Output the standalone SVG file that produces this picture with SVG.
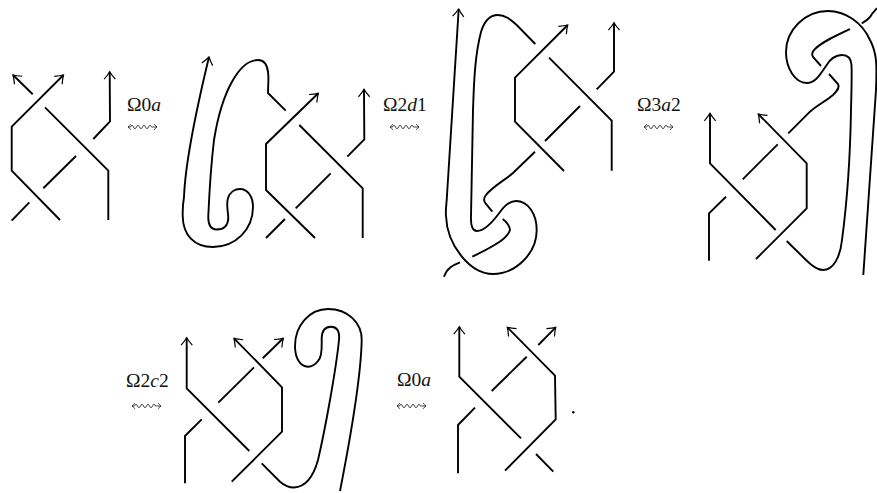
<svg xmlns="http://www.w3.org/2000/svg" width="877" height="493" viewBox="0 0 877 493">
<style>
.s{fill:none;stroke:#000;stroke-width:1.9;stroke-linejoin:miter;stroke-linecap:butt}
.a{marker-end:url(#ah)}
.l{font-family:"Liberation Serif",serif;font-size:19.5px;fill:#111}
.i{font-style:italic}
.q{fill:none;stroke:#222;stroke-width:.85}
</style>
<defs>
<marker id="ah" markerUnits="userSpaceOnUse" markerWidth="14" markerHeight="16" refX="10" refY="8" orient="auto" overflow="visible">
<path d="M2.500,2.400 Q7,6.300 10,8 Q7,9.700 2.500,13.600" fill="none" stroke="#000" stroke-width="1.200"/>
</marker>
<g id="sq">
<path class="q" d="M0,0 h2.500 q1.500,-3.400 3,0 t3,0 t3,0 t3,0 t3,0 t3,0 t3,0 L29,0"/>
<path class="q" d="M3,-2.800 Q1,-0.900 0,0 Q1,0.900 3,2.800 M26,-2.800 Q28,-0.900 29,0 Q28,0.900 26,2.800"/>
</g>
</defs>
<g id="knot1">
<path class="s a" d="M32.700,94.300 L13,75"/>
<path class="s a" d="M60,220 L11.700,170.700 L11.700,126.700 L63.500,75"/>
<path class="s" d="M45,107.300 L108.300,170.700 L108.300,220"/>
<path class="s" d="M11.700,220.700 L29.300,202.300"/>
<path class="s" d="M43.300,188.300 L76,156"/>
<path class="s a" d="M93.300,139 L110,121.300 L109.700,71.700"/>
</g>
<g id="knot2">
<path class="s a" d="M285.700,110.700 L268,93 C268,85 269,78 268,72 C267,64 263,60 258,60 C240,60 222,90 214,140 C211,165 209,200 208.300,216 C208,225 211,229.500 216.700,229.500 C224,229.500 228,226 228.300,218 C228,210 226,205 228,198 C230,192 235,189 240,189 C248,189 253,197 253,207 C253,230 235,247 213,247 C194,247 183,235 182.700,216 C182.500,208 183,203 184,197 C185,170 195,115 209,57"/>
<path class="s a" d="M315,238 L266,190 L266,144 L318.300,93.300"/>
<path class="s" d="M299.300,125 L362.700,188.300 L362.700,238"/>
<path class="s" d="M266,238 L285,219"/>
<path class="s" d="M295.700,208.300 L330.700,173.300"/>
<path class="s a" d="M347.300,156.700 L364.300,139.300 L364,89.300"/>
</g>
<g id="knot3">
<path class="s a" d="M535.300,44 L516.700,25 C510,19 505,15 498,15 C490,15 484,22 481,32 C475,55 474,80 473,110 L471,216 C470.500,227 473,231 477,231 C484,231 492,223 500,212 C505,205 510,201 516,201 C528,201 536.700,214 536.700,230 C536.700,254 515,274 493,274 C470,274 447,245 446,216 C445.500,212 446,208 446.700,200 L458.700,9"/>
<path class="s a" d="M564,171 L515,121.700 L515,77.700 L567.700,25"/>
<path class="s" d="M549,57.700 L611.700,120.700 L611.700,170.700"/>
<path class="s" d="M545,141 L580,106"/>
<path class="s a" d="M596.700,89.300 L614,71.700 L614,22.700"/>
<path class="s" d="M535,151.700 L513,173 C505,180 492,187 486,195 C483,199 484,202 486,204 L492.300,211.700"/>
<path class="s" d="M502.700,219 C507,222 510,227 510,230 C509,233 505,238 500,241.500 C492,247 482,252 472.300,256.700"/>
<path class="s" d="M460,262.300 C453,265 447,268 444,276.700"/>
</g>
<g id="knot4">
<path class="s a" d="M775.700,230 L710,163.300 L710,113.300"/>
<path class="s" d="M709,260.700 L709,213.300 L726,196.700"/>
<path class="s" d="M742.700,179.300 L777.700,144.300"/>
<path class="s a" d="M756,259 L806.700,208.300 L806.700,163.300 L758.300,114"/>
<path class="s" d="M786.700,241 L806,260 C812,266 817,270 823,270 C833,270 840,258 842,240 C846,210 850,170 851,110 C851.500,90 852,75 851.500,65 C851,58 847,55 842,55 C836,55 830,59 826,66 C820,75 815,83 806.700,83 C795,83 786,68 786,52 C786,30 805,11 828,11 C845,11 862,22 870,40 C877,53 877,65 876,90 L863.300,275"/>
<path class="s" d="M788.300,133.300 L810,111.700 C816,106 826,101 833,95 C838,90 840,87 838,84 L829,74"/>
<path class="s" d="M821,66 L813,57 C811,54 812,52 815,49 C822,42 835,36 850,29"/>
<path class="s" d="M861.700,23.300 C866,21 870,18 872,14 L877,8"/>
</g>
<g id="knot5">
<path class="s a" d="M249.300,451 L186.700,388.300 L186.700,337.700"/>
<path class="s" d="M185,483.300 L185,436 L201.700,419.300"/>
<path class="s" d="M218.300,402.700 L254,367.300"/>
<path class="s a" d="M262.700,358.300 L283.300,338.300"/>
<path class="s a" d="M231.700,481.700 L282,431.700 L282,387.300 L234,338.300"/>
<path class="s" d="M261.700,463.300 L280,481.700 C285,486 289,487.500 294,487.500 C305,487 313,478 318,460 C325,430 336,370 339,340 C340,330 336,326.700 331,326.700 C325,326.700 322,331 321.700,338 C321.500,345 323,356 318,361 C315,365 312,366.700 308,366.700 C300,366.700 295,358 295,346 C295,325 310,309 328,309 C348,309 362,323 361.700,340 C361,375 350,440 340,491"/>
</g>
<g id="knot6">
<path class="s a" d="M521,438.300 L459.300,376.700 L459.300,326.700"/>
<path class="s" d="M458,473.300 L458,425 L475,407.700"/>
<path class="s" d="M491.700,391 L526.700,356.700"/>
<path class="s a" d="M538.300,345 L555.700,327.300"/>
<path class="s a" d="M505,470.700 L555.700,419.300 L555,375.700 L507.300,327.300"/>
<path class="s" d="M536,454 L553.300,471.700"/>
<circle cx="573.300" cy="412.300" r="1.200" fill="#000"/>
</g>
<g id="moves">
<text class="l" x="127" y="111">Ω0<tspan class="i">a</tspan></text>
<use href="#sq" x="128" y="127"/>
<text class="l" x="383" y="111">Ω2<tspan class="i">d</tspan>1</text>
<use href="#sq" x="390" y="127"/>
<text class="l" x="637" y="111">Ω3<tspan class="i">a</tspan>2</text>
<use href="#sq" x="644" y="127"/>
<text class="l" x="126" y="386.500">Ω2<tspan class="i">c</tspan>2</text>
<use href="#sq" x="132" y="406"/>
<text class="l" x="397" y="386">Ω0<tspan class="i">a</tspan></text>
<use href="#sq" x="397" y="406"/>
</g>
</svg>
